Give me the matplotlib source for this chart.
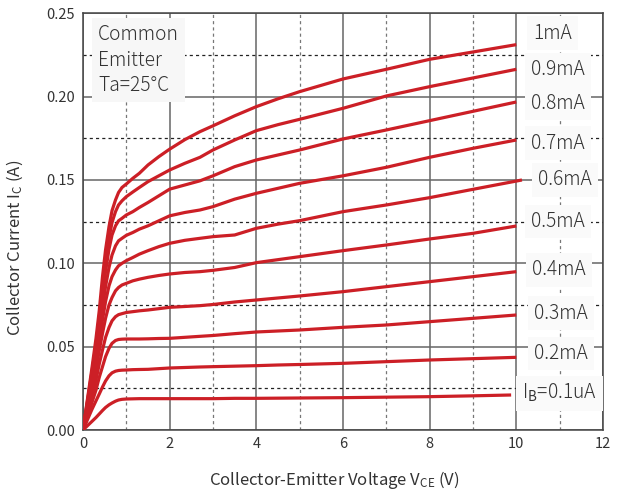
import matplotlib
matplotlib.use("Agg")
import matplotlib.pyplot as plt
from matplotlib.ticker import MultipleLocator, FormatStrFormatter

plt.rcParams['font.family'] = ['Noto Sans CJK JP', 'DejaVu Sans']
plt.rcParams['mathtext.fontset'] = 'custom'
plt.rcParams['mathtext.rm'] = 'Noto Sans CJK JP'
plt.rcParams['mathtext.it'] = 'Noto Sans CJK JP'

# ---- data ----
vce = [0, 0.1, 0.2, 0.3, 0.375, 0.45, 0.52, 0.6, 0.67, 0.75,
       0.82, 0.9, 1.0, 1.15, 1.3, 1.5, 1.75, 2, 2.35, 2.7,
       3, 3.5, 4, 4.5, 5, 6, 7, 8, 9, 10]
vce_06 = vce[:-1] + [10.13]
vce_01 = vce[:-1] + [9.88]

ic_1mA  = [0, 0.018, 0.036, 0.055, 0.0716, 0.092, 0.108, 0.122, 0.1316, 0.138,
           0.1425, 0.1455, 0.1476, 0.151, 0.154, 0.159, 0.164, 0.1685, 0.1742, 0.179,
           0.1825, 0.1885, 0.194, 0.1987, 0.203, 0.2106, 0.2164, 0.2224, 0.2268, 0.2312]
ic_09mA = [0, 0.017, 0.034, 0.051, 0.0676, 0.085, 0.101, 0.115, 0.1245, 0.131,
           0.135, 0.1375, 0.140, 0.1428, 0.1455, 0.149, 0.1525, 0.156, 0.160, 0.1636,
           0.168, 0.174, 0.1796, 0.1832, 0.1864, 0.193, 0.2004, 0.206, 0.2112, 0.2164]
ic_08mA = [0, 0.016, 0.032, 0.048, 0.0636, 0.080, 0.095, 0.1085, 0.117, 0.1225,
           0.1255, 0.127, 0.129, 0.131, 0.1335, 0.1365, 0.1405, 0.1445, 0.147, 0.1495,
           0.1525, 0.158, 0.162, 0.165, 0.168, 0.1746, 0.180, 0.1856, 0.1912, 0.1968]
ic_07mA = [0, 0.0145, 0.029, 0.044, 0.0586, 0.073, 0.086, 0.0975, 0.105, 0.1105,
           0.1135, 0.115, 0.1168, 0.1185, 0.1205, 0.1225, 0.1255, 0.1285, 0.1305, 0.132,
           0.134, 0.1385, 0.142, 0.145, 0.148, 0.1525, 0.1576, 0.1636, 0.169, 0.174]
ic_06mA = [0, 0.0135, 0.027, 0.040, 0.0536, 0.066, 0.077, 0.0865, 0.092, 0.096,
           0.0985, 0.100, 0.1016, 0.1035, 0.1055, 0.1076, 0.110, 0.112, 0.1138, 0.115,
           0.116, 0.117, 0.121, 0.1235, 0.1256, 0.131, 0.135, 0.1394, 0.1444, 0.150]
ic_05mA = [0, 0.012, 0.024, 0.036, 0.0476, 0.058, 0.067, 0.075, 0.0795, 0.0835,
           0.0855, 0.087, 0.088, 0.0895, 0.0905, 0.0916, 0.0927, 0.0936, 0.0945, 0.095,
           0.0958, 0.0975, 0.1004, 0.1022, 0.104, 0.1076, 0.111, 0.1146, 0.118, 0.1224]
ic_04mA = [0, 0.010, 0.020, 0.030, 0.0396, 0.048, 0.0555, 0.0615, 0.0655, 0.068,
           0.0692, 0.0698, 0.0705, 0.071, 0.0715, 0.072, 0.0728, 0.0736, 0.0741, 0.0746,
           0.0753, 0.0768, 0.078, 0.0792, 0.0804, 0.083, 0.086, 0.089, 0.092, 0.095]
ic_03mA = [0, 0.008, 0.016, 0.024, 0.0316, 0.038, 0.044, 0.049, 0.052, 0.0537,
           0.0543, 0.0545, 0.0546, 0.0546, 0.0546, 0.0547, 0.0549, 0.055, 0.0556, 0.0562,
           0.0567, 0.0578, 0.0588, 0.0594, 0.060, 0.0616, 0.063, 0.065, 0.067, 0.069]
ic_02mA = [0, 0.006, 0.012, 0.0175, 0.0216, 0.0258, 0.0294, 0.0325, 0.0343, 0.0353,
           0.0357, 0.0359, 0.036, 0.0362, 0.0363, 0.0364, 0.0368, 0.0372, 0.0375, 0.0378,
           0.038, 0.0383, 0.0386, 0.039, 0.0393, 0.040, 0.041, 0.042, 0.0428, 0.0436]
ic_01mA = [0, 0.0025, 0.005, 0.0075, 0.0096, 0.0117, 0.0135, 0.0151, 0.0162, 0.0173,
           0.018, 0.0184, 0.0186, 0.0187, 0.0188, 0.0188, 0.0188, 0.0188, 0.0188, 0.0188,
           0.0188, 0.019, 0.019, 0.0191, 0.0192, 0.0194, 0.0197, 0.020, 0.0205, 0.021]

curve_labels = ["1mA", "0.9mA", "0.8mA", "0.7mA", "0.6mA", "0.5mA", "0.4mA", "0.3mA", "0.2mA",
                "I$_\\mathrm{B}$=0.1uA"]
label_x = [10.83, 10.96, 10.96, 10.96, 11.12, 10.96, 10.98, 11.03, 11.03, 11.0]
label_y = [0.238, 0.216, 0.196, 0.172, 0.150, 0.125, 0.096, 0.070, 0.046, 0.022]

series = [(vce, ic_1mA), (vce, ic_09mA), (vce, ic_08mA), (vce, ic_07mA), (vce_06, ic_06mA),
          (vce, ic_05mA), (vce, ic_04mA), (vce, ic_03mA), (vce, ic_02mA), (vce_01, ic_01mA)]

red = '#cc1f26'
txt = '#333333'

fig = plt.figure(figsize=(6.2, 4.94), dpi=100)
ax = fig.add_axes([83/620, 1-430/494, 520/620, (430-13.3)/494])
ax.set_xlim(0, 12)
ax.set_ylim(0, 0.25)

ax.xaxis.set_major_locator(MultipleLocator(2))
ax.xaxis.set_minor_locator(MultipleLocator(1))
ax.yaxis.set_major_locator(MultipleLocator(0.05))
ax.yaxis.set_minor_locator(MultipleLocator(0.025))
ax.yaxis.set_major_formatter(FormatStrFormatter('%.2f'))
ax.set_axisbelow(True)
ax.grid(which='major', color='#666666', linewidth=1.1)
ax.grid(which='minor', axis='y', color='#222222', linewidth=0.9, linestyle=(0, (2.5, 2.5)))
ax.grid(which='minor', axis='x', color='#777777', linewidth=0.9, linestyle=(0, (2.5, 2.5)))
ax.tick_params(which='both', length=0, labelsize=10.5, colors=txt)
ax.tick_params(axis='y', pad=6)
ax.tick_params(axis='x', pad=5)
for s in ax.spines.values():
    s.set_color('#444444')
    s.set_linewidth(1.1)

for (xv, yv) in series:
    ax.plot(xv, yv, color=red, linewidth=2.3, solid_joinstyle='round', solid_capstyle='butt', zorder=4)

for lab, lx, ly in zip(curve_labels, label_x, label_y):
    ax.text(lx, ly, lab, ha='center', va='center', fontsize=13.8, color=txt, zorder=5,
            fontweight='light',
            bbox=dict(boxstyle='square,pad=0.33', facecolor='#fafafa', edgecolor='none'))

ax.text(0.35, 0.2435, "Common\nEmitter\nTa=25°C", ha='left', va='top', fontsize=13.8, color=txt,
        linespacing=1.28, zorder=5, fontweight='light',
        bbox=dict(boxstyle='square,pad=0.3', facecolor='#f7f7f7', edgecolor='none'))

ax.set_xlabel("Collector-Emitter Voltage V$_\\mathrm{CE}$ (V)", fontsize=12, color=txt)
ax.set_ylabel("Collector Current I$_\\mathrm{C}$ (A)", fontsize=12, color=txt)
ax.xaxis.set_label_coords(0.483, -0.094)
ax.yaxis.set_label_coords(-0.112, 0.437)

fig.savefig("out.png", dpi=100)
